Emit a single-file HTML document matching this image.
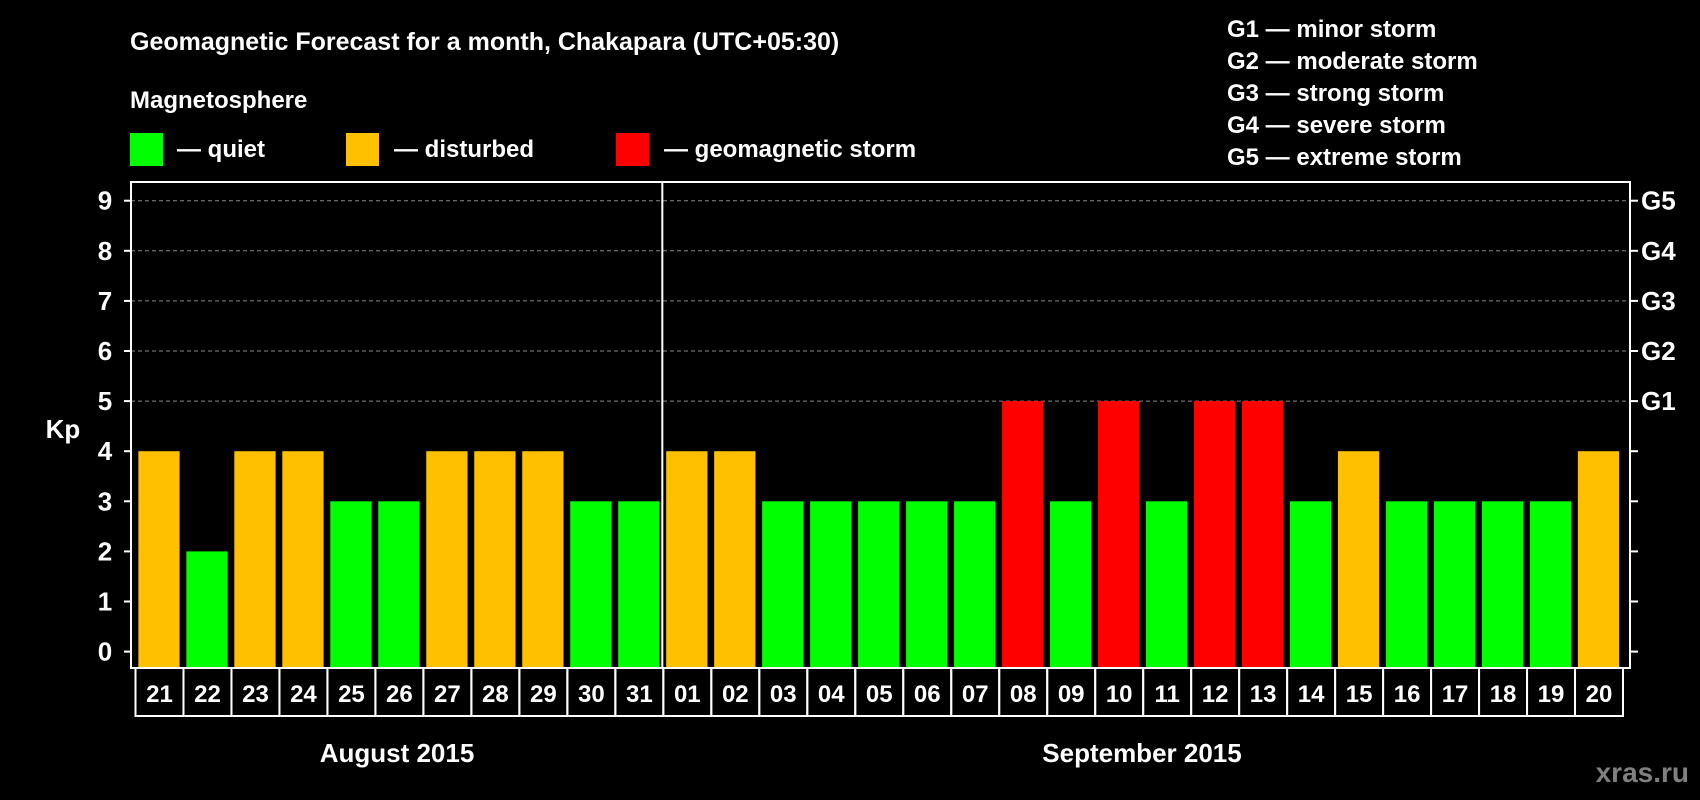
<!DOCTYPE html>
<html><head><meta charset="utf-8"><style>
html,body{margin:0;padding:0;background:#000;}
svg{display:block;font-family:"Liberation Sans",sans-serif;font-weight:bold;}
</style></head><body>
<svg id="c" width="1700" height="800" viewBox="0 0 1700 800">
<rect x="0" y="0" width="1700" height="800" fill="#000"/>
<text x="130" y="50" fill="#fff" font-size="25">Geomagnetic Forecast for a month, Chakapara (UTC+05:30)</text>
<text x="130" y="108" fill="#fff" font-size="24">Magnetosphere</text>
<g><rect x="130" y="133" width="33" height="33" fill="#00ff00"/><text x="177" y="157" fill="#fff" font-size="24">— quiet</text></g>
<g><rect x="346" y="133" width="33" height="33" fill="#ffc000"/><text x="394" y="157" fill="#fff" font-size="24">— disturbed</text></g>
<g><rect x="616" y="133" width="33" height="33" fill="#ff0000"/><text x="664" y="157" fill="#fff" font-size="24">— geomagnetic storm</text></g>
<g font-size="24" fill="#fff">
<text x="1227" y="37">G1 — minor storm</text>
<text x="1227" y="69">G2 — moderate storm</text>
<text x="1227" y="101">G3 — strong storm</text>
<text x="1227" y="133">G4 — severe storm</text>
<text x="1227" y="165">G5 — extreme storm</text>
</g>
<g id="plot"></g>
<text x="63" y="438" fill="#fff" font-size="26" text-anchor="middle">Kp</text>
<text x="397" y="762" fill="#fff" font-size="26" text-anchor="middle">August 2015</text>
<text x="1142" y="762" fill="#fff" font-size="26" text-anchor="middle">September 2015</text>
<text x="1689" y="782" fill="#808080" font-size="28" text-anchor="end">xras.ru</text>
</svg>
<script>
const days = ["21","22","23","24","25","26","27","28","29","30","31","01","02","03","04","05","06","07","08","09","10","11","12","13","14","15","16","17","18","19","20"];
const kpValues = [4,2,4,4,3,3,4,4,4,3,3,4,4,3,3,3,3,3,5,3,5,3,5,5,3,4,3,3,3,3,4];
const yTicks = [0,1,2,3,4,5,6,7,8,9];
const gLabels = ["G1","G2","G3","G4","G5"];
const gLevels = [5,6,7,8,9];
const monthBreakIndex = 11;

const NS = "http://www.w3.org/2000/svg";
const g = document.getElementById("plot");
const L = 131, R = 1630, T = 182, B = 668;
const x0 = 135.5, pitch = (1623 - 135.5) / days.length;
const y = v => 651.6 - v * 50.1;
const xs = i => x0 + i * pitch;
function mk(tag, attrs){ const e = document.createElementNS(NS, tag); for (const k in attrs) e.setAttribute(k, attrs[k]); g.appendChild(e); return e; }

yTicks.forEach(v => {
  if (v >= 5) {
    const gl = mk("line", {x1:L, x2:R, y1:y(v), y2:y(v), stroke:"#888", "stroke-width":1, "stroke-dasharray":"4,3"});
    
    
  }
  const t1 = mk("line", {x1:L-7, x2:L, y1:y(v), y2:y(v), stroke:"#fff", "stroke-width":2});
  
  
  const t2 = mk("line", {x1:R, x2:R+8, y1:y(v), y2:y(v), stroke:"#fff", "stroke-width":2});
  
  
  const lb = mk("text", {x:105, y:y(v)+9, fill:"#fff", "font-size":26, "text-anchor":"middle"});
  lb.textContent = v;
  
  
});
gLabels.forEach((s, i) => {
  const t = mk("text", {x:1641, y:y(gLevels[i])+9, fill:"#fff", "font-size":26});
  t.textContent = s;
  
  
});
kpValues.forEach((v, i) => {
  const col = v >= 5 ? "#ff0000" : (v >= 4 ? "#ffc000" : "#00ff00");
  const bw = pitch * 0.86;
  const r = mk("rect", {x:xs(i) + (pitch-bw)/2 - 0.5, y:y(v), width:bw, height:B - y(v), fill:col});
  
  
  const box = mk("rect", {x:xs(i), y:B, width:pitch, height:48, fill:"none", stroke:"#fff", "stroke-width":2});
  
  
  const t = mk("text", {x:xs(i)+pitch/2, y:B+34, fill:"#fff", "font-size":24, "text-anchor":"middle"});
  t.textContent = days[i];
  
  
});
const frame = mk("rect", {x:L, y:T, width:R-L, height:B-T, fill:"none", stroke:"#fff", "stroke-width":2});


const div = mk("line", {x1:xs(monthBreakIndex)-1, x2:xs(monthBreakIndex)-1, y1:T, y2:B, stroke:"#fff", "stroke-width":2});


</script>
</body></html>
